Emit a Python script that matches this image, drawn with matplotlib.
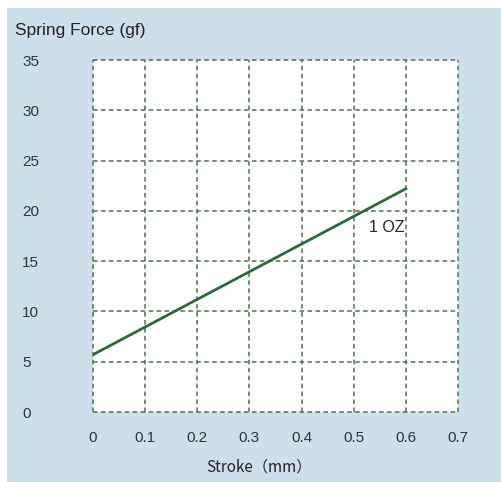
import matplotlib
matplotlib.use('Agg')
import matplotlib.pyplot as plt

# data
stroke = [0.0, 0.6]
force = [5.7, 22.2]
x_ticks = [0, 0.1, 0.2, 0.3, 0.4, 0.5, 0.6, 0.7]
x_labels = ['0', '0.1', '0.2', '0.3', '0.4', '0.5', '0.6', '0.7']
y_ticks = [0, 5, 10, 15, 20, 25, 30, 35]
series_label = '1 OZ'

bg = '#cddfeb'
grid_c = '#4f704f'
line_c = '#2c6a3c'
txt_c = '#333333'

fig = plt.figure(figsize=(5.02, 4.82), dpi=100)
fig.patch.set_facecolor('white')

# light blue panel behind everything
back = fig.add_axes([7 / 502, 0, 1 - 7 / 502, 1 - 8 / 482], zorder=-5)
back.set_facecolor(bg)
back.set_xticks([])
back.set_yticks([])
for s in back.spines.values():
    s.set_visible(False)

ax = fig.add_axes([93 / 502, 70 / 482, 365 / 502, 352 / 482])
ax.set_facecolor('white')
ax.set_xlim(0, 0.7)
ax.set_ylim(0, 35)

# dashed grid incl. the border
for x in x_ticks:
    ax.axvline(x, color=grid_c, lw=1.1, ls=(0, (3, 2.2)), zorder=1, clip_on=False)
for y in y_ticks:
    ax.axhline(y, color=grid_c, lw=1.1, ls=(0, (3, 2.2)), zorder=1, clip_on=False)
for s in ax.spines.values():
    s.set_visible(False)

ax.plot(stroke, force, color=line_c, lw=2.0, zorder=3)
ax.text(0.530, 18.3, series_label, fontsize=11.5, color='#222222', va='center',
        family='Liberation Sans', zorder=4)

ax.set_xticks(x_ticks)
ax.set_xticklabels(x_labels)
ax.set_yticks(y_ticks)
ax.tick_params(length=0, labelcolor=txt_c, labelsize=11)
ax.tick_params(axis='x', pad=14)
ax.tick_params(axis='y', pad=51)
for lab in ax.get_yticklabels():
    lab.set_horizontalalignment('left')
for lab in ax.get_xticklabels() + ax.get_yticklabels():
    lab.set_family('Liberation Sans')

fig.text(15 / 502, 1 - 31 / 482, 'Spring Force (gf)', fontsize=12.5, color='#222222',
         va='center', ha='left', family='Liberation Sans')
fig.text(259 / 502, 1 - 467 / 482, 'Stroke（mm）', fontsize=11, color='#222222',
         va='center', ha='center', family=['Noto Sans CJK SC', 'DejaVu Sans'])

fig.savefig('out.png', dpi=100, facecolor=fig.get_facecolor())
